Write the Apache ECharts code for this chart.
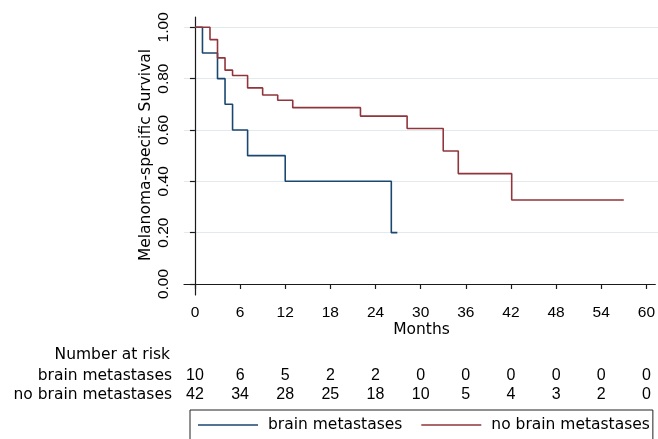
<!DOCTYPE html>
<html>
<head>
<meta charset="utf-8">
<script src="https://cdn.jsdelivr.net/npm/echarts@6/dist/echarts.min.js"></script>
<style>
  html, body { margin: 0; padding: 0; background: #ffffff; }
  #chart { width: 658px; height: 439px; }
</style>
</head>
<body>
<div id="chart"></div>
<script>
// Kaplan-Meier curves: melanoma-specific survival by brain metastasis status
const groupNames = ['brain metastases', 'no brain metastases'];

const brainTimes = [0, 1, 3, 4, 5, 7, 12, 26.1, 26.9];
const brainSurv  = [1.0, 0.9, 0.8, 0.7, 0.6, 0.5, 0.4, 0.2, 0.2];

const noBrainTimes = [0, 2, 3, 4, 5, 7, 9, 11, 13, 22, 28.2, 33, 35, 42.1, 57];
const noBrainSurv  = [1.0, 0.952, 0.881, 0.833, 0.812, 0.764, 0.736, 0.716, 0.687, 0.654, 0.606, 0.518, 0.430, 0.327, 0.327];

// Axis ticks
const monthTicks = [0, 6, 12, 18, 24, 30, 36, 42, 48, 54, 60];
const survTicks  = [0, 0.2, 0.4, 0.6, 0.8, 1.0];

// Number at risk at each month tick
const riskBrain   = [10, 6, 5, 2, 2, 0, 0, 0, 0, 0, 0];
const riskNoBrain = [42, 34, 28, 25, 18, 10, 5, 4, 3, 2, 0];

const colors = ['#1a476f', '#90353b'];
const WORD_FONT = 'DejaVu Sans';
const NUM_FONT = 'Liberation Sans';

// Plot frame layout (pixels)
const frameLeft = 184, frameRight = 658, frameTop = 17, frameBottom = 295;
const x0px = 195, x60px = 649;       // where months 0 and 60 sit
const y0px = 284, y1px = 27.3;       // where survival 0 and 1 sit

const pxPerMonth = (x60px - x0px) / 60;
const xMin = -(x0px - frameLeft) / pxPerMonth;
const xMax = 60 + (frameRight - x60px) / pxPerMonth;
const pxPerUnit = (y0px - y1px);
const yMin = -(frameBottom - y0px) / pxPerUnit;
const yMax = 1 + (y1px - frameTop) / pxPerUnit;

const toPairs = (xs, ys) => xs.map((x, i) => [x, ys[i]]);

const chart = echarts.init(document.getElementById('chart'), null, { renderer: 'canvas' });

const axisColor = '#1a1a1a';

chart.setOption({
  animation: false,
  backgroundColor: '#ffffff',
  textStyle: { fontFamily: WORD_FONT },
  grid: [
    { left: frameLeft, top: frameTop, width: frameRight - frameLeft, height: frameBottom - frameTop },
    // inner band that carries the horizontal reference lines
    { left: frameLeft, top: y1px, width: frameRight - frameLeft, height: y0px - y1px }
  ],
  xAxis: [
    {
      gridIndex: 0, type: 'value', min: xMin, max: xMax,
      axisLine: { show: true, lineStyle: { color: axisColor, width: 1.2 } },
      axisTick: { show: true, length: 5, customValues: monthTicks, lineStyle: { color: axisColor, width: 1.2 } },
      axisLabel: { customValues: monthTicks, color: '#000', fontSize: 15.5, fontFamily: NUM_FONT, margin: 10 },
      splitLine: { show: false }
    },
    {
      gridIndex: 1, type: 'value', min: xMin, max: xMax, show: false,
      splitLine: { show: false }
    }
  ],
  yAxis: [
    {
      gridIndex: 0, type: 'value', min: yMin, max: yMax,
      axisLine: { show: true, lineStyle: { color: axisColor, width: 1.2 } },
      axisTick: { show: true, length: 5, customValues: survTicks, lineStyle: { color: axisColor, width: 1.2 } },
      axisLabel: {
        customValues: survTicks, rotate: 90, color: '#000', fontSize: 15.5, fontFamily: NUM_FONT, margin: 12,
        formatter: v => v.toFixed(2)
      },
      splitLine: { show: false }
    },
    {
      gridIndex: 1, type: 'value', min: 0, max: 1, interval: 0.2,
      axisLine: { show: false }, axisTick: { show: false }, axisLabel: { show: false },
      splitLine: {
        show: true,
        lineStyle: { color: ['rgba(0,0,0,0)', '#e3eaee', '#e3eaee', '#e3eaee', '#e3eaee', '#e3eaee'], width: 1 }
      }
    }
  ],
  legend: {
    left: 190, top: 410,
    icon: 'rect',
    itemWidth: 60, itemHeight: 1.6, itemGap: 19,
    padding: [7, 3, 12, 8],
    borderColor: '#222', borderWidth: 1,
    textStyle: { fontFamily: WORD_FONT, fontSize: 15.5, color: '#000', padding: [0, 0, 0, 5] },
    data: groupNames
  },
  series: [
    {
      name: groupNames[0], type: 'line', step: 'end', symbol: 'none',
      xAxisIndex: 0, yAxisIndex: 0,
      lineStyle: { color: colors[0], width: 1.6 }, itemStyle: { color: colors[0] },
      data: toPairs(brainTimes, brainSurv)
    },
    {
      name: groupNames[1], type: 'line', step: 'end', symbol: 'none',
      xAxisIndex: 0, yAxisIndex: 0,
      lineStyle: { color: colors[1], width: 1.6 }, itemStyle: { color: colors[1] },
      data: toPairs(noBrainTimes, noBrainSurv)
    }
  ]
});

// Axis titles and number-at-risk table
const textEls = [];
const txt = (x, y, s, align, font, size, extra) => Object.assign({
  type: 'text', x: x, y: y,
  style: { text: s, fill: '#000', font: size + 'px "' + font + '"', align: align, verticalAlign: 'middle' }
}, extra || {});

textEls.push(txt(146, 155, 'Melanoma-specific Survival', 'center', WORD_FONT, 15.5, { rotation: Math.PI / 2 }));
textEls.push(txt(421.5, 330, 'Months', 'center', WORD_FONT, 15.5));

const rowY = [355, 376, 395];
textEls.push(txt(170, rowY[0], 'Number at risk', 'right', WORD_FONT, 15.5));
textEls.push(txt(172, rowY[1], groupNames[0], 'right', WORD_FONT, 15.5));
textEls.push(txt(172, rowY[2], groupNames[1], 'right', WORD_FONT, 15.5));

monthTicks.forEach((m, i) => {
  const px = chart.convertToPixel({ xAxisIndex: 0 }, m);
  textEls.push(txt(px, rowY[1], String(riskBrain[i]), 'center', NUM_FONT, 16));
  textEls.push(txt(px, rowY[2], String(riskNoBrain[i]), 'center', NUM_FONT, 16));
});

chart.setOption({ graphic: textEls });
</script>
</body>
</html>
